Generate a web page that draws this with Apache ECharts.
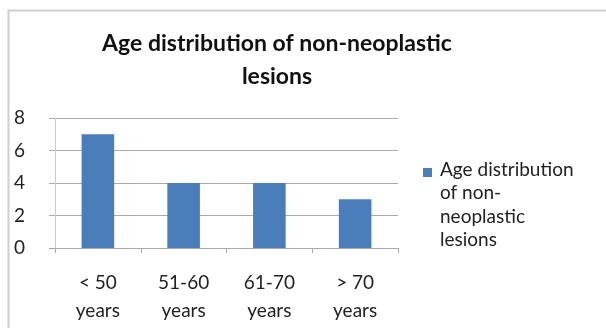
<!DOCTYPE html>
<html>
<head>
<meta charset="utf-8">
<script src="https://cdn.jsdelivr.net/npm/echarts@6/dist/echarts.min.js"></script>
<style>
    html, body { margin: 0; padding: 0; background: #fff; }
    #myChart { width: 606px; height: 328px; }
</style>
</head>
<body>
<div id="myChart"></div>
<script>
var categories = ['< 50\nyears', '51-60\nyears', '61-70\nyears', '> 70\nyears'];
var counts = [7, 4, 4, 3];
var seriesName = 'Age distribution of non-neoplastic lesions';

var chart = echarts.init(document.getElementById('myChart'));
var font = 'Lato, "Open Sans", sans-serif';

var option = {
    animation: false,
    backgroundColor: '#fff',
    title: {
        text: 'Age distribution of non-neoplastic\nlesions',
        left: 272,
        top: 22,
        textAlign: 'center',
        textStyle: {
            fontFamily: font,
            fontSize: 23,
            fontWeight: 'bold',
            color: '#111',
            lineHeight: 33
        }
    },
    legend: {
        orient: 'vertical',
        left: 423,
        top: 158,
        padding: 0,
        itemWidth: 9,
        itemHeight: 94,
        // square near the top of a tall icon box so it sits beside the first line
        icon: 'path://M0,0h0.1v0.1h-0.1z M0,10h9v9h-9z M0,93.9h0.1v0.1h-0.1z',
        itemGap: 4,
        align: 'left',
        data: [seriesName],
        formatter: function () {
            return 'Age distribution\nof non-\nneoplastic\nlesions';
        },
        textStyle: {
            fontFamily: font,
            fontSize: 19,
            color: '#222',
            lineHeight: 23.5,
            padding: [0, 0, 0, 3]
        }
    },
    grid: {
        left: 55,
        right: 208,
        top: 118,
        bottom: 80
    },
    xAxis: {
        type: 'category',
        data: categories,
        axisLine: { show: true, lineStyle: { color: '#aaa', width: 1 } },
        axisTick: { show: true, alignWithLabel: false, length: 5, lineStyle: { color: '#aaa' } },
        axisLabel: {
            fontFamily: font,
            fontSize: 19,
            color: '#222',
            lineHeight: 28,
            margin: 21
        }
    },
    yAxis: {
        type: 'value',
        min: 0,
        max: 8,
        interval: 2,
        axisLine: { show: true, lineStyle: { color: '#ccc' } },
        axisTick: { show: true, length: 6, lineStyle: { color: '#aaa' } },
        splitLine: { lineStyle: { color: '#aaa', width: 1 } },
        axisLabel: {
            fontFamily: font,
            fontSize: 19,
            color: '#222',
            margin: 30,
            align: 'right'
        }
    },
    series: [{
        name: seriesName,
        type: 'bar',
        data: counts,
        barWidth: '38%',
        itemStyle: { color: '#4a7ebb' }
    }],
    graphic: [{
        type: 'rect',
        shape: { x: 8.5, y: 10.5, width: 620, height: 340 },
        style: { fill: null, stroke: '#d0d0d0', lineWidth: 2 },
        silent: true
    }]
};

chart.setOption(option);
</script>
</body>
</html>
